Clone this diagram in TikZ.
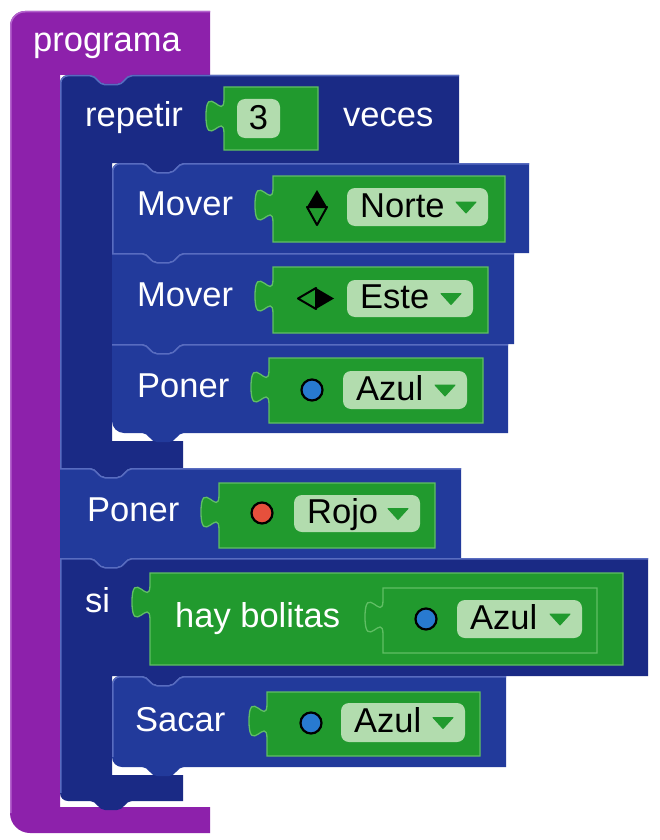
\documentclass[tikz,border=0pt]{standalone}
\usepackage{fontspec}
\setmainfont{Liberation Sans}
\definecolor{purp}{RGB}{141,33,171}
\definecolor{purphl}{RGB}{180,100,205}
\definecolor{navyd}{RGB}{26,42,133}
\definecolor{navys}{RGB}{34,58,155}
\definecolor{navyhl}{RGB}{88,108,192}
\definecolor{gblock}{RGB}{33,154,46}
\definecolor{gedge}{RGB}{96,190,100}
\definecolor{fieldc}{RGB}{178,220,174}
\definecolor{bluedot}{RGB}{40,122,208}
\definecolor{reddot}{RGB}{230,80,60}
\tikzset{
  notchR/.style 2 args={insert path={-- ({#1+30},#2) .. controls ({#1+37},#2) and ({#1+38},{#2+9}) .. ({#1+45},{#2+9}) -- ({#1+57},{#2+9}) .. controls ({#1+64},{#2+9}) and ({#1+65},#2) .. ({#1+72},#2)}},
  tabL/.style 2 args={insert path={-- ({#1+72},#2) .. controls ({#1+65},#2) and ({#1+64},{#2+9}) .. ({#1+57},{#2+9}) -- ({#1+45},{#2+9}) .. controls ({#1+38},{#2+9}) and ({#1+37},#2) .. ({#1+30},#2)}},
  wt/.style={anchor=base west, inner sep=0pt, text=white, font=\fontsize{34.5}{40}\selectfont},
  bt/.style={anchor=base west, inner sep=0pt, text=black, font=\fontsize{34.5}{40}\selectfont},
  gfill/.style={fill=gblock, draw=gedge, line width=1.3pt},
  hl/.style={draw=navyhl, line width=1.5pt},
  dot/.style={draw=black, line width=2.2pt},
}
\newcommand\gblk[4]{\filldraw[gfill] (#1,#2) -- (#3,#2) -- (#3,#4) -- (#1,#4) -- (#1,{#2+46.5}) .. controls (#1,{#2+23.5}) and ({#1-18},{#2+64}) .. ({#1-18},{#2+29}) .. controls ({#1-18},{#2-6}) and (#1,{#2+35}) .. (#1,{#2+12}) -- cycle;}
\newcommand\fld[6]{\fill[fieldc, rounded corners=8pt] (#1,#2) rectangle (#3,#4);
  \node[bt] (#6) at ({#1+13},{(#2+#4)/2+10}) {#5};
  \fill[gblock, line join=round, draw=gblock, line width=1pt] ({#3-32},{(#2+#4)/2-5}) -- ({#3-12},{(#2+#4)/2-5}) -- ({#3-22},{(#2+#4)/2+6}) -- cycle;}
\begin{document}
\begin{tikzpicture}[x=1pt,y=-1pt]
\useasboundingbox (0,0) rectangle (659,840);
\fill[white] (0,0) rectangle (659,840);
% programa (purple C block)
\fill[purp] (10,26) .. controls (10,17.7) and (16.7,11) .. (25,11) -- (210,11) -- (210,75) [tabL={60}{75}] -- (60,75) -- (60,807) -- (210,807) -- (210,833) -- (30,833) .. controls (19,833) and (10,824) .. (10,813) -- cycle;
\draw[purphl, line width=1.5pt] (10.75,813) -- (10.75,26) .. controls (10.75,18) and (17,11.75) .. (25,11.75) -- (210,11.75);
% repetir
\fill[navyd] (60,83) .. controls (60,78.6) and (63.6,75) .. (68,75) [notchR={60}{75}] -- (459,75) -- (459,163) [tabL={112}{163}] -- (112,163) -- (112,441) -- (183,441) -- (183,468) [tabL={60}{468}] -- (60,468) -- cycle;
\draw[hl] (60.75,468) -- (60.75,83) .. controls (60.75,79) and (64,75.75) .. (68,75.75) [notchR={60}{75.75}] -- (459,75.75);
% Mover Norte
\fill[navys] (112,171) .. controls (112,166.6) and (115.6,163) .. (120,163) [notchR={112}{163}] -- (529,163) -- (529,253) [tabL={112}{253}] -- (112,253) -- cycle;
\draw[hl] (112.75,253) -- (112.75,171) .. controls (112.75,167) and (116,163.75) .. (120,163.75) [notchR={112}{163.75}] -- (529,163.75);
% Mover Este
\fill[navys] (112,253) [notchR={112}{253}] -- (514,253) -- (514,344) [tabL={112}{344}] -- (112,344) -- cycle;
\draw[hl] (112,253.75) [notchR={112}{253.75}] -- (514,253.75);
% Poner Azul
\fill[navys] (112,344) [notchR={112}{344}] -- (508,344) -- (508,433) [tabL={112}{433}] -- (124,433) .. controls (117.4,433) and (112,427.6) .. (112,421) -- cycle;
\draw[hl] (112,344.75) [notchR={112}{344.75}] -- (508,344.75);
% Poner Rojo
\fill[navys] (60,468) [notchR={60}{468}] -- (461,468) -- (461,558) [tabL={60}{558}] -- (60,558) -- cycle;
\draw[hl] (60,468.75) [notchR={60}{468.75}] -- (461,468.75);
% si
\fill[navyd] (60,558) [notchR={60}{558}] -- (648,558) -- (648,676) [tabL={112}{676}] -- (112,676) -- (112,775) -- (183,775) -- (183,801) [tabL={60}{801}] -- (68,801) .. controls (63.6,801) and (60,797.4) .. (60,793) -- cycle;
\draw[hl] (60.75,793) -- (60.75,558.75) [notchR={60}{558.75}] -- (648,558.75);
% Sacar
\fill[navys] (112,684) .. controls (112,679.6) and (115.6,676) .. (120,676) [notchR={112}{676}] -- (506,676) -- (506,767) [tabL={112}{767}] -- (122,767) .. controls (116.5,767) and (112,762.5) .. (112,757) -- cycle;
\draw[hl] (112.75,757) -- (112.75,684) .. controls (112.75,680) and (116,676.75) .. (120,676.75) [notchR={112}{676.75}] -- (506,676.75);
% texts on navy / purple
\node[wt] (tprog) at (33,52) {programa};
\node[wt] (trep) at (85,127) {repetir};
\node[wt] (tvec) at (343,127) {veces};
\node[wt] (tmov1) at (137,215) {Mover};
\node[wt] (tmov2) at (137,306) {Mover};
\node[wt] (tpon1) at (137,397) {Poner};
\node[wt] (tpon2) at (87,521) {Poner};
\node[wt] (tsi) at (85,612) {si};
\node[wt] (tsac) at (135,731) {Sacar};
% value block 3
\gblk{224}{87}{318}{150}
\fill[fieldc, rounded corners=8pt] (237,99) rectangle (280,138);
\node[bt, anchor=base] (tthree) at (258.5,130) {3};
% Norte
\gblk{273}{176}{505}{242}
\fill[black] (307,207) -- (317,190) -- (327,207) -- cycle;
\draw[black, line width=2pt, line join=round] (307,207) -- (317,225) -- (327,207) -- cycle;
\fld{347}{188}{488}{226}{Norte}{fnorte}
% Este
\gblk{273}{267}{488}{333}
\draw[black, line width=2pt, line join=round] (316,288) -- (298,298.5) -- (316,309) -- cycle;
\fill[black] (316,288) -- (334,298.5) -- (316,309) -- cycle;
\fld{347}{280}{473}{317}{Este}{feste}
% Azul (Poner)
\gblk{269}{358}{483}{423}
\filldraw[fill=bluedot, dot] (312,390) circle[radius=10.5pt];
\fld{343}{371}{467}{409}{Azul}{fazul1}
% Rojo
\gblk{219}{483}{435}{548}
\filldraw[fill=reddot, dot] (262,513) circle[radius=10.5pt];
\fld{294}{495}{420}{532}{Rojo}{frojo}
% hay bolitas
\gblk{150}{573}{623}{665}
\node[wt] (thay) at (175,627) {hay bolitas};
\gblk{383}{588}{597}{653}
\filldraw[fill=bluedot, dot] (426,619) circle[radius=10.5pt];
\fld{457}{600}{582}{638}{Azul}{fazul2}
% Sacar Azul
\gblk{267}{692}{480}{756}
\filldraw[fill=bluedot, dot] (311,723) circle[radius=10.5pt];
\fld{341}{703}{465}{742}{Azul}{fazul3}
\end{tikzpicture}
\end{document}
